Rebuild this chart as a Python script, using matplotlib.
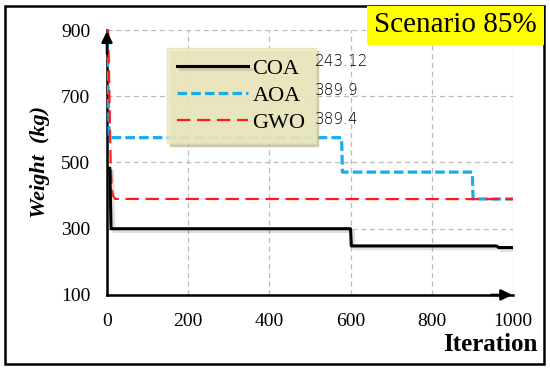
import numpy as np
import matplotlib.pyplot as plt
import matplotlib.patheffects as pe
from matplotlib.patches import Rectangle

# step curves (iteration, weight)
coa_x = [0, 7, 10, 600, 602, 960, 965, 1000]
coa_y = [483, 483, 300, 300, 248, 248, 243.12, 243.12]

aoa_x = [0, 3, 6, 578, 580, 900, 902, 1000]
aoa_y = [900, 700, 575, 575, 471, 471, 389.9, 389.9]

gwo_x = [3, 6, 9, 12, 15, 20, 1000]
gwo_y = [900, 700, 500, 420, 400, 390, 389.4]

labels = ['COA', 'AOA', 'GWO']
best = ['243.12', '389.9', '389.4']
xticks = [0, 200, 400, 600, 800, 1000]
yticks = [100, 300, 500, 700, 900]

serif = 'Liberation Serif'

fig = plt.figure(figsize=(5.5, 3.71), dpi=100)
ax = fig.add_axes([0.1945, 0.205, 0.738, 0.714])

shadow = [pe.SimpleLineShadow(offset=(2, -2), alpha=0.25, shadow_color='gray'), pe.Normal()]
l1, = ax.plot(coa_x, coa_y, color='black', lw=2.2, path_effects=shadow, zorder=5)
l2, = ax.plot(aoa_x, aoa_y, color='#19ACE8', lw=2.3, dashes=(3, 1.3), zorder=4)
l3, = ax.plot(gwo_x, gwo_y, color='#FF1A1A', lw=1.6, dashes=(6, 3), zorder=4)

ax.set_xlim(0, 1000)
ax.set_ylim(100, 900)
ax.set_xticks(xticks)
ax.set_yticks(yticks)
ax.tick_params(length=0, labelsize=14)
ax.tick_params(axis='x', pad=13)
ax.tick_params(axis='y', pad=12)
for t in ax.get_xticklabels() + ax.get_yticklabels():
    t.set_fontfamily(serif)
ax.grid(True, color='#BBBBBB', ls=(0, (4, 3)), lw=0.9)
ax.spines['top'].set_visible(False)
ax.spines['right'].set_visible(False)
ax.spines['left'].set_linewidth(1.8)
ax.spines['bottom'].set_linewidth(1.8)

# arrows on the axes
ax.annotate('', xy=(0, 905), xytext=(0, 820), xycoords='data',
            arrowprops=dict(arrowstyle='-|>', color='black', lw=1.8, mutation_scale=16),
            annotation_clip=False, zorder=6)
ax.annotate('', xy=(1005, 100), xytext=(940, 100), xycoords='data',
            arrowprops=dict(arrowstyle='-|>', color='black', lw=1.8, mutation_scale=16),
            annotation_clip=False, zorder=6)

ax.set_ylabel('Weight  (kg)', fontfamily=serif, fontsize=16, fontweight='bold',
              fontstyle='italic', labelpad=8)
fig.text(0.977, 0.04, 'Iteration', fontfamily=serif, fontsize=18, fontweight='bold',
         ha='right', va='bottom')

leg = ax.legend([l1, l2, l3], labels, loc='upper left',
                bbox_to_anchor=(0.3036, 0.8706), bbox_transform=fig.transFigure,
                borderaxespad=0, prop={'family': serif, 'size': 16},
                handlelength=3.2, handletextpad=0.2, labelspacing=0.3,
                borderpad=0.45, fancybox=False,
                shadow={'color': '#B8B090', 'alpha': 0.6},
                framealpha=0.8, facecolor='#EFEDC0', edgecolor='#E4E1B4')
leg.set_zorder(7)

for i, v in enumerate(best):
    fig.text(0.572, 0.833 - i * 0.078, v, fontfamily='DejaVu Sans', fontsize=11,
             fontweight='light', ha='left', va='center')

# figure frame and scenario box
fig.patches.append(Rectangle((0.009, 0.02), 0.98, 0.965, transform=fig.transFigure,
                             fill=False, ec='black', lw=1.8))
fig.patches.append(Rectangle((0.667, 0.879), 0.322, 0.106, transform=fig.transFigure,
                             fc='yellow', ec='none', zorder=3))
fig.text(0.828, 0.932, 'Scenario 85%', fontfamily=serif, fontsize=21,
         ha='center', va='center', zorder=4)

fig.savefig('out.png', dpi=100)
